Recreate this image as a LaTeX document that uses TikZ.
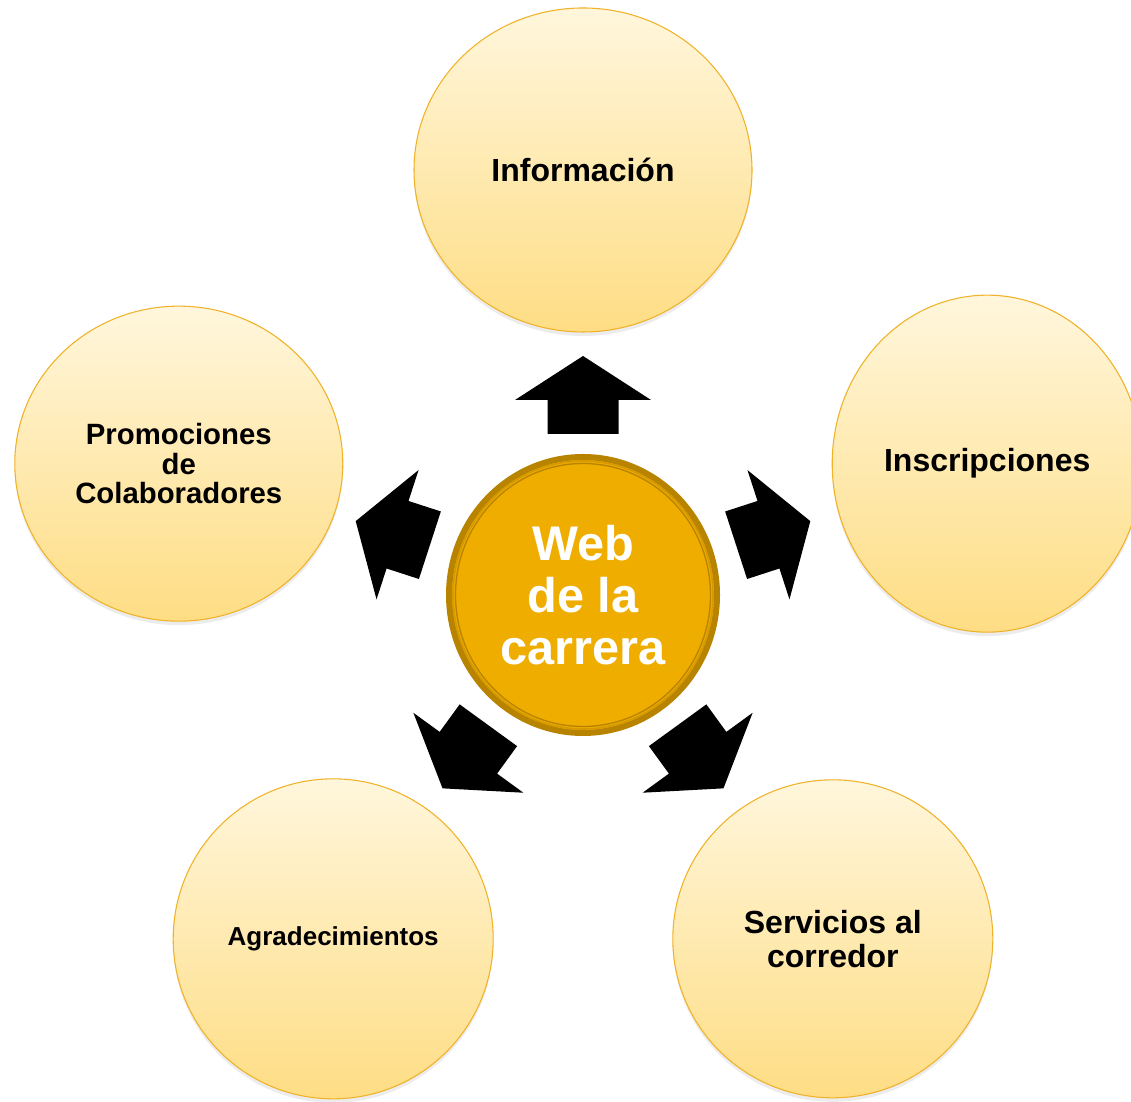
\documentclass[tikz,border=0pt]{standalone}
\usepackage{fontspec}
\setmainfont{Liberation Sans}
\usetikzlibrary{calc,shapes.geometric,shadows}
\definecolor{creamtop}{RGB}{255,246,220}
\definecolor{creambot}{RGB}{254,221,132}
\definecolor{ringgold}{RGB}{240,178,40}
\definecolor{webgold}{RGB}{239,173,0}
\definecolor{webedge}{RGB}{184,132,0}
\definecolor{webline}{RGB}{214,154,0}
\tikzset{
  topic/.style={ellipse,draw=ringgold,line width=0.8pt,
    top color=creamtop,bottom color=creambot,inner sep=0pt,
    align=center,font=\bfseries\fontsize{24}{25.5}\selectfont,
    drop shadow={opacity=0.15,shadow xshift=0pt,shadow yshift=-3pt}},
  hub/.style={ellipse,fill=webgold,draw=webedge,line width=4.5pt,
    inner sep=0pt,align=center,text=white,
    font=\bfseries\fontsize{36.5}{39}\selectfont},
  blockarrow/.style={fill=black}
}

\begin{document}
\begin{tikzpicture}[x=0.75pt,y=0.75pt]
    \useasboundingbox (0,0) rectangle (1131,1102);
    \clip (0,0) rectangle (1131,1102);
    \coordinate (mid) at (583,507);
    \node[topic,minimum width=253.5pt,minimum height=243pt] (info) at ($(mid)+(90:425)$) {Información};
    \node[topic,minimum width=232.5pt,minimum height=252.75pt] (inscr) at ($(mid)+(18:425)$) {Inscripciones};
    \node[topic,minimum width=240pt,minimum height=238.5pt] (serv) at ($(mid)+(306:425)$) {Servicios al\\corredor};
    \node[topic,minimum width=240pt,minimum height=240pt,font=\bfseries\fontsize{19.5}{21}\selectfont] (agrad) at ($(mid)+(234:425)$) {Agradecimientos};
    \node[topic,minimum width=246pt,minimum height=236.25pt,font=\bfseries\fontsize{22}{22.3}\selectfont] (promo) at ($(mid)+(162:425)$) {Promociones\\de\\Colaboradores};
    \foreach \a in {18,90,162,234,306}
      \fill[blockarrow,shift={(mid)},rotate=\a] (161,-35.5) -- (195,-35.5) -- (195,-68)
        -- (239,0) -- (195,68) -- (195,35.5) -- (161,35.5) -- cycle;
    \node[hub,minimum width=201pt,minimum height=207pt] (web) at (mid) {Web\\de la\\carrera};
    \draw[webline,line width=1.2pt] (web.center) ellipse (130 and 134);
    \draw[webedge,line width=1pt] (web.center) ellipse (127.5 and 131.5);
  \end{tikzpicture}
\end{document}
